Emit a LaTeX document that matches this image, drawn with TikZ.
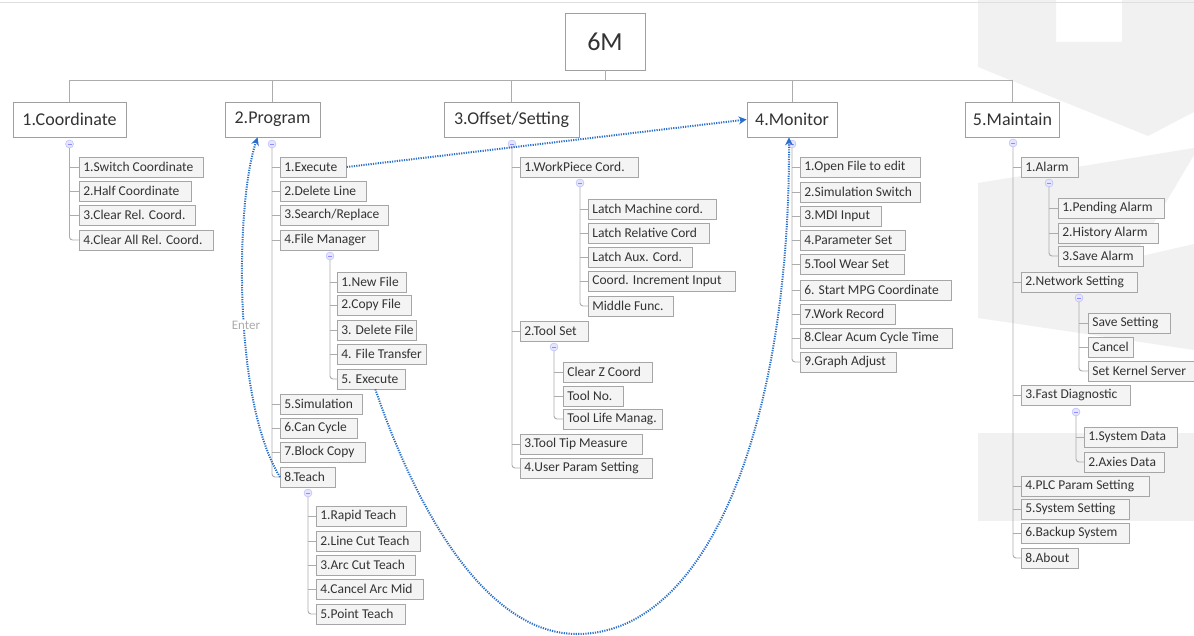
\documentclass[tikz,border=0pt]{standalone}
\usepackage{fontspec}
\setmainfont{Carlito}
\usetikzlibrary{arrows.meta,shadows}
\definecolor{txt}{HTML}{333333}
\definecolor{arrowblue}{HTML}{2A6FC9}
\tikzset{
  wm/.style={fill=gray!11, draw=none},
  top/.style={draw=gray!75, fill=white, line width=0.8pt, minimum height=35pt, inner sep=0pt, text=txt, font=\fontsize{18}{20}\selectfont},
  leaf/.style={anchor=west, draw=gray!70, fill=gray!9, line width=0.7pt, minimum height=20pt, inner xsep=4pt, inner ysep=0pt, text=txt, font=\fontsize{13.5}{15}\selectfont, drop shadow={shadow xshift=0.9pt, shadow yshift=-0.9pt, fill=gray!55, opacity=0.7}},
  tree/.style={draw=gray!65, line width=0.9pt, rounded corners=3pt},
  mk/.style={circle, draw=blue!30, fill=blue!10, minimum size=8pt, inner sep=0pt,
    path picture={\draw[blue!45, line width=0.5pt] ([xshift=-2pt]path picture bounding box.center) -- ([xshift=2pt]path picture bounding box.center);}},
  link/.style={draw=arrowblue, dash pattern=on 1.2pt off 1.2pt, line width=2pt, -{Stealth[length=8pt,width=8pt]}},
}
\newcommand{\lf}[5]{\node[leaf, minimum width=#4pt] (#1) at (#2,#3) {\makebox[\dimexpr#4pt-8pt\relax][l]{#5}};}
\begin{document}
\begin{tikzpicture}[x=1pt,y=-1pt]
\useasboundingbox (0,0) rectangle (1194,636);
% watermark background
\fill[wm] (978,0) -- (1056,0) -- (1056,42) -- (1122,42) -- (1122,0) -- (1194,0) -- (1194,112) -- (1148,136) -- (978,67) -- cycle;
\fill[wm] (978,183) -- (1194,148) -- (1194,155) -- (1133,258) -- (1194,244) -- (1194,350) -- (978,318) -- cycle;
\fill[wm] (978,433) rectangle (1194,521);
\draw[gray!25, line width=1pt] (0,3) -- (1194,3);

% root and top level
\node[top, minimum width=80pt, minimum height=57pt, font=\fontsize{26}{28}\selectfont] (root) at (605,41.5) {6M};
\node[top, minimum width=113pt] (t1) at (69.5,119.5) {1.Coordinate};
\node[top, minimum width=95pt] (t2) at (272.5,119.5) {2.Program};
\node[top, minimum width=135pt] (t3) at (511.5,119.5) {3.Offset/Setting};
\node[top, minimum width=90pt] (t4) at (792,119.5) {4.Monitor};
\node[top, minimum width=94pt] (t5) at (1012.5,119.5) {5.Maintain};
\coordinate (bus) at (0,80);
\draw[tree] (root.south) -- (root.south |- bus);
\draw[tree] (t1.north |- bus) -- (t5.north |- bus);
\foreach \t in {t1,t2,t3,t4,t5} {\draw[tree] (\t.north |- bus) -- (\t.north);}

% markers
\node[mk] (m1) at (69.5,144) {};
\node[mk] (m2) at (272,144) {};
\node[mk] (m3) at (512,144) {};
\node[mk] (m4) at (792,144) {};
\node[mk] (m5) at (1013,143) {};

% 1.Coordinate
\lf{c1}{79}{167}{124}{1.Switch Coordinate}
\lf{c2}{79}{191}{112}{2.Half Coordinate}
\lf{c3}{79}{215}{116}{3.Clear Rel. Coord.}
\lf{c4}{79}{240}{134}{4.Clear All Rel. Coord.}
\draw[tree] (m1.south) |- (c4.west);
\foreach \c in {c1,c2,c3} {\draw[tree] (m1 |- \c.west) -- (\c.west);}

% 2.Program
\lf{p1}{280}{167}{66}{1.Execute}
\lf{p2}{280}{191}{86}{2.Delete Line}
\lf{p3}{280}{215}{108}{3.Search/Replace}
\lf{p4}{280}{240}{98}{4.File Manager}
\lf{p5}{280}{404}{82}{5.Simulation}
\lf{p6}{280}{428}{77}{6.Can Cycle}
\lf{p7}{280}{452}{85}{7.Block Copy}
\lf{p8}{280}{477}{55}{8.Teach}
\draw[tree] (m2.south) |- (p8.west);
\foreach \c in {p1,p2,p3,p4,p5,p6,p7} {\draw[tree] (m2 |- \c.west) -- (\c.west);}
\node[mk] (m24) at (330,256) {};
\lf{p41}{337}{282}{69}{1.New File}
\lf{p42}{337}{305}{74}{2.Copy File}
\lf{p43}{337}{330}{79}{3. Delete File}
\lf{p44}{337}{354}{89}{4. File Transfer}
\lf{p45}{337}{379}{68}{5. Execute}
\draw[tree] (m24.south) |- (p45.west);
\foreach \c in {p41,p42,p43,p44} {\draw[tree] (m24 |- \c.west) -- (\c.west);}
\node[mk] (m28) at (308,493) {};
\lf{p81}{316}{516}{90}{1.Rapid Teach}
\lf{p82}{316}{541}{104}{2.Line Cut Teach}
\lf{p83}{316}{565}{99}{3.Arc Cut Teach}
\lf{p84}{316}{589}{107}{4.Cancel Arc Mid}
\lf{p85}{316}{614}{89}{5.Point Teach}
\draw[tree] (m28.south) |- (p85.west);
\foreach \c in {p81,p82,p83,p84} {\draw[tree] (m28 |- \c.west) -- (\c.west);}

% 3.Offset/Setting
\lf{o1}{520}{167}{118}{1.WorkPiece Cord.}
\lf{o2}{520}{331}{68}{2.Tool Set}
\lf{o3}{520}{444}{122}{3.Tool Tip Measure}
\lf{o4}{520}{468}{132}{4.User Param Setting}
\draw[tree] (m3.south) |- (o4.west);
\foreach \c in {o1,o2,o3} {\draw[tree] (m3 |- \c.west) -- (\c.west);}
\node[mk] (m31) at (580,183) {};
\lf{o11}{588}{209}{128}{Latch Machine cord.}
\lf{o12}{588}{233}{121}{Latch Relative Cord}
\lf{o13}{588}{257}{104}{Latch Aux. Cord.}
\lf{o14}{588}{281}{147}{Coord. Increment Input}
\lf{o15}{588}{306}{85}{Middle Func.}
\draw[tree] (m31.south) |- (o15.west);
\foreach \c in {o11,o12,o13,o14} {\draw[tree] (m31 |- \c.west) -- (\c.west);}
\node[mk] (m32) at (554,347) {};
\lf{o21}{563}{372}{89}{Clear Z Coord}
\lf{o22}{563}{396}{60}{Tool No.}
\lf{o23}{563}{419}{99}{Tool Life Manag.}
\draw[tree] (m32.south) |- (o23.west);
\foreach \c in {o21,o22} {\draw[tree] (m32 |- \c.west) -- (\c.west);}

% 4.Monitor
\lf{n1}{800}{167}{120}{1.Open File  to edit}
\lf{n2}{800}{192}{120}{2.Simulation Switch}
\lf{n3}{800}{216}{81}{3.MDI Input}
\lf{n4}{800}{240}{105}{4.Parameter Set}
\lf{n5}{800}{264}{104}{5.Tool Wear Set}
\lf{n6}{800}{290}{151}{6. Start MPG Coordinate}
\lf{n7}{800}{314}{95}{7.Work Record}
\lf{n8}{800}{338}{152}{8.Clear Acum Cycle Time}
\lf{n9}{800}{362}{96}{9.Graph Adjust}
\draw[tree] (m4.south) |- (n9.west);
\foreach \c in {n1,n2,n3,n4,n5,n6,n7,n8} {\draw[tree] (m4 |- \c.west) -- (\c.west);}

% 5.Maintain
\lf{a1}{1021}{167}{57}{1.Alarm}
\lf{a2}{1021}{282}{116}{2.Network Setting}
\lf{a3}{1021}{395}{109}{3.Fast Diagnostic}
\lf{a4}{1021}{486}{128}{4.PLC Param Setting}
\lf{a5}{1021}{509}{108}{5.System Setting}
\lf{a6}{1021}{533}{108}{6.Backup System}
\lf{a8}{1021}{558}{57}{8.About}
\draw[tree] (m5.south) |- (a8.west);
\foreach \c in {a1,a2,a3,a4,a5,a6} {\draw[tree] (m5 |- \c.west) -- (\c.west);}
\node[mk] (m51) at (1049,183) {};
\lf{a11}{1058}{208}{106}{1.Pending Alarm}
\lf{a12}{1058}{233}{100}{2.History Alarm}
\lf{a13}{1058}{256}{85}{3.Save Alarm}
\draw[tree] (m51.south) |- (a13.west);
\foreach \c in {a11,a12} {\draw[tree] (m51 |- \c.west) -- (\c.west);}
\node[mk] (m52) at (1079,298) {};
\lf{a21}{1088}{323}{82}{Save Setting}
\lf{a22}{1088}{347}{45}{Cancel}
\lf{a23}{1088}{371}{118}{Set Kernel Server}
\draw[tree] (m52.south) |- (a23.west);
\foreach \c in {a21,a22} {\draw[tree] (m52 |- \c.west) -- (\c.west);}
\node[mk] (m53) at (1076,412) {};
\lf{a31}{1084}{437}{93}{1.System Data}
\lf{a32}{1084}{462}{80}{2.Axies Data}
\draw[tree] (m53.south) |- (a32.west);
\draw[tree] (m53 |- a31.west) -- (a31.west);

% blue links
\draw[link] (p1.east) -- (t4.west);
\draw[link] (p8.west) .. controls (232,400) and (236,200) .. ([xshift=33pt]t2.south west);
\node[fill=white, text=gray!65, inner sep=1pt, font=\fontsize{13}{14}\selectfont] (enter) at (246,325) {Enter};
\draw[link] ([xshift=4pt]p45.south) .. controls (420,520) and (490,634) .. (577,634) .. controls (710,634) and (790,420) .. ([xshift=-3pt]t4.south);
\end{tikzpicture}
\end{document}
